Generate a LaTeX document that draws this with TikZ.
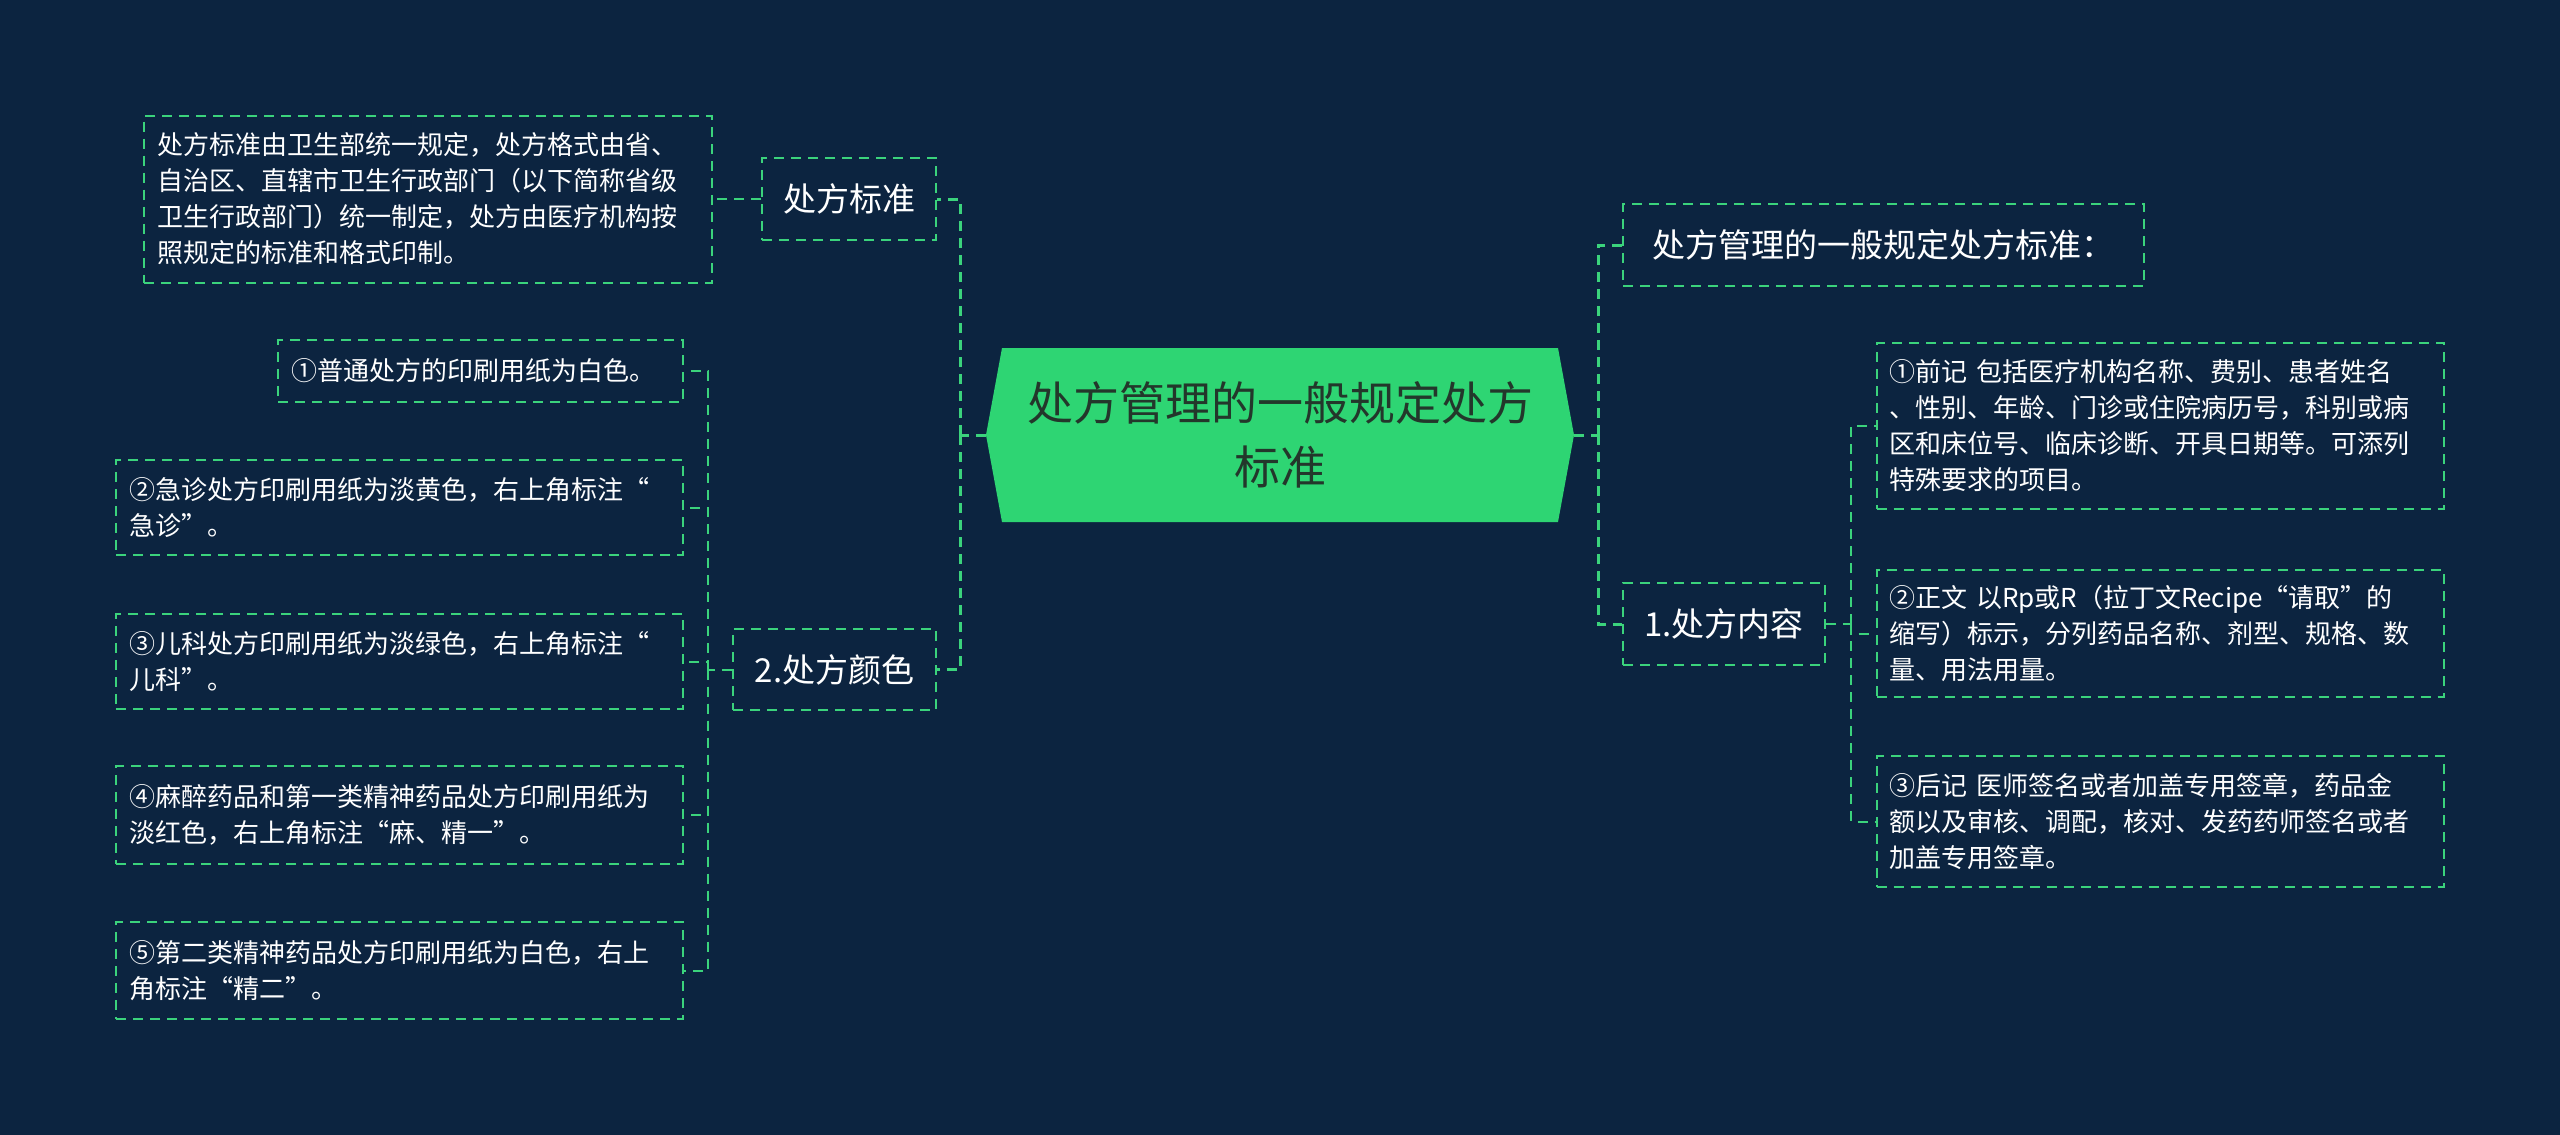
\documentclass[tikz,border=0pt]{standalone}
\usepackage{fontspec}
\setmainfont{Noto Sans CJK SC}
\definecolor{bgblue}{HTML}{0C2440}
\definecolor{linegreen}{HTML}{3BD37C}
\definecolor{rootgreen}{HTML}{2ED573}
\definecolor{rootink}{HTML}{23372B}

\begin{document}
\begin{tikzpicture}[x=1pt,y=-1pt,
  box/.style={draw=linegreen, line width=2pt, dash pattern=on 10pt off 7pt, text=white},
  topic/.style={box, font=\fontsize{33}{40}\selectfont, inner sep=0pt},
  leaf/.style={box, font=\fontsize{26}{36}\selectfont, align=left, inner xsep=13pt, inner ysep=0pt},
  link/.style={draw=linegreen, line width=2pt, dash pattern=on 10pt off 7pt},
  trunk/.style={link, line width=3pt}]

\fill[bgblue] (0,0) rectangle (2560,1135);

% centre
\fill[rootgreen] (986,435) -- (1002,348) -- (1558,348) -- (1574,435) -- (1558,522) -- (1002,522) -- cycle;
\node[text=rootink, font=\fontsize{46}{64}\selectfont, align=center, minimum width=588pt, minimum height=174pt, inner sep=0pt] (root) at (1280,435) {处方管理的一般规定处方\\标准};

% right side
\node[topic, minimum width=521pt, minimum height=82pt] (r1) at (1883.5,245) {处方管理的一般规定处方标准：};
\node[topic, minimum width=202pt, minimum height=82pt] (r2) at (1724,624) {1.处方内容};

\node[leaf, text width=541pt, minimum height=166pt] (d1) at (2160,426) {①前记 包括医疗机构名称、费别、患者姓名\\、性别、年龄、门诊或住院病历号，科别或病\\区和床位号、临床诊断、开具日期等。可添列\\特殊要求的项目。};
\node[leaf, text width=541pt, minimum height=127pt] (d2) at (2160,633.5) {②正文 以Rp或R（拉丁文Recipe“请取”的\\缩写）标示，分列药品名称、剂型、规格、数\\量、用法用量。};
\node[leaf, text width=541pt, minimum height=131pt] (d3) at (2160,821.5) {③后记 医师签名或者加盖专用签章，药品金\\额以及审核、调配，核对、发药药师签名或者\\加盖专用签章。};

% left side
\node[topic, minimum width=174pt, minimum height=82pt] (l1) at (849,199) {处方标准};
\node[topic, minimum width=203pt, minimum height=81pt] (l2) at (834.5,669.5) {2.处方颜色};

\node[leaf, text width=542pt, minimum height=167pt] (lt) at (428,199) {处方标准由卫生部统一规定，处方格式由省、\\自治区、直辖市卫生行政部门（以下简称省级\\卫生行政部门）统一制定，处方由医疗机构按\\照规定的标准和格式印制。};

\node[leaf, text width=379pt, minimum height=62pt] (c1) at (480.5,371) {①普通处方的印刷用纸为白色。};
\node[leaf, text width=541pt, minimum height=95pt] (c2) at (399.5,507.5) {②急诊处方印刷用纸为淡黄色，右上角标注“\\急诊”。};
\node[leaf, text width=541pt, minimum height=95pt] (c3) at (399.5,661.5) {③儿科处方印刷用纸为淡绿色，右上角标注“\\儿科”。};
\node[leaf, text width=541pt, minimum height=98pt] (c4) at (399.5,815) {④麻醉药品和第一类精神药品处方印刷用纸为\\淡红色，右上角标注“麻、精一”。};
\node[leaf, text width=541pt, minimum height=97pt] (c5) at (399.5,970.5) {⑤第二类精神药品处方印刷用纸为白色，右上\\角标注“精二”。};

% connectors
\coordinate (rj) at (1598,435);
\coordinate (lj) at (960,435);
\coordinate (rk) at (1851,624);
\coordinate (lk) at (708,669.5);

\draw[trunk] (root.east) -- (rj);
\draw[trunk] (rj) |- (r1.west);
\draw[trunk] (rj) |- (r2.west);
\draw[trunk] (root.west) -- (lj);
\draw[trunk] (lj) |- (l1.east);
\draw[trunk] (lj) |- (l2.east);

\draw[link] (r2.east) -- (rk);
\foreach \n in {d1,d2,d3}
  \draw[link] (rk) |- (\n.west);

\draw[link] (l1.west) -- (lt.east);
\draw[link] (l2.west) -- (lk);
\foreach \n in {c1,c2,c3,c4,c5}
  \draw[link] (lk) |- (\n.east);
\end{tikzpicture}
\end{document}
